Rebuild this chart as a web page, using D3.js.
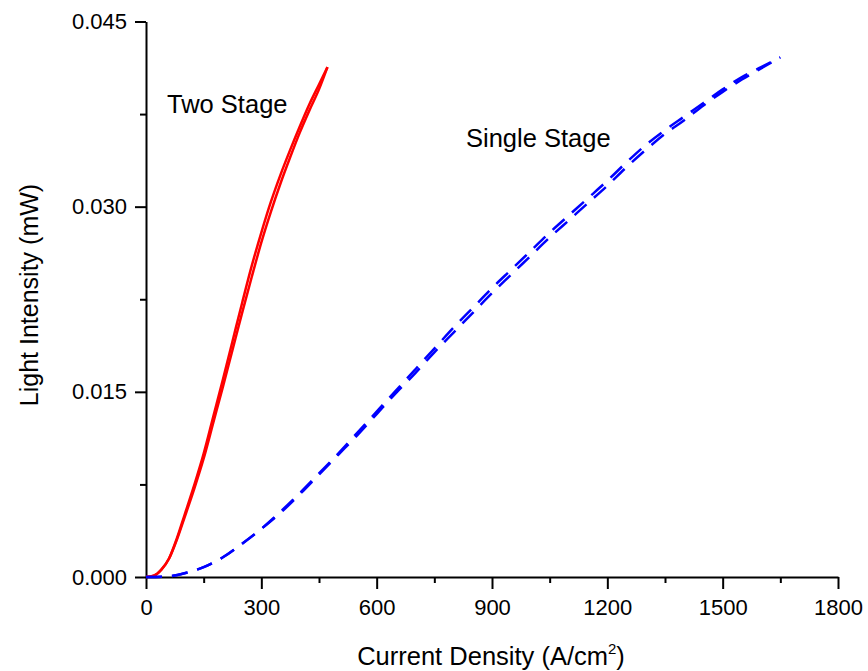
<!DOCTYPE html>
<html>
<head>
<meta charset="utf-8">
<script src="https://cdn.jsdelivr.net/npm/d3@7"></script>
<style>
  body { margin: 0; background: #fff; }
  svg text { font-family: "Liberation Sans", Arial, Helvetica, sans-serif; fill: #000; }
  .axis path, .axis line { stroke: #000; stroke-width: 2px; }
  .axis text { font-size: 22px; }
</style>
</head>
<body>
<svg id="chart" width="868" height="671"></svg>
<script>
// Two Stage, up sweep / down sweep (current density A/cm2, light mW)
const twoJ = [0, 20, 40, 60, 80, 100, 125, 150, 175, 200, 225, 250, 275, 300, 325, 350, 375, 400, 425, 450, 472];
const twoUp = [0, 0.0001, 0.0006, 0.0015, 0.0031, 0.0050, 0.0074, 0.0100, 0.0130, 0.0160, 0.0191, 0.0222, 0.0252, 0.0279, 0.0304, 0.0326, 0.0346, 0.0365, 0.0383, 0.0399, 0.0413];
const twoDown = [0, 0.0001, 0.0006, 0.0015, 0.0030, 0.0048, 0.0071, 0.0096, 0.0125, 0.0154, 0.0184, 0.0214, 0.0243, 0.0271, 0.0296, 0.0319, 0.0340, 0.0360, 0.0378, 0.0395, 0.0413];

// Single Stage, up sweep / down sweep
const oneJ = [0, 50, 100, 150, 200, 250, 300, 350, 400, 450, 500, 550, 600, 650, 700, 750, 800, 850, 900, 950, 1000, 1050, 1100, 1150, 1200, 1250, 1300, 1350, 1400, 1450, 1500, 1550, 1600, 1650];
const oneUp = [0, 0.00003, 0.0003, 0.0008, 0.0016, 0.0027, 0.0039, 0.0053, 0.0068, 0.0084, 0.0100, 0.0117, 0.0134, 0.0151, 0.0168, 0.0185, 0.0202, 0.0218, 0.0234, 0.0249, 0.0264, 0.0279, 0.0293, 0.0307, 0.0321, 0.0336, 0.0350, 0.0362, 0.0373, 0.0384, 0.0395, 0.0405, 0.0413, 0.0421];
const oneDown = [0, 0.00003, 0.0003, 0.0008, 0.0016, 0.0027, 0.0039, 0.0052, 0.0067, 0.0083, 0.0099, 0.0115, 0.0132, 0.0149, 0.0165, 0.0182, 0.0198, 0.0214, 0.0230, 0.0245, 0.0260, 0.0275, 0.0289, 0.0303, 0.0317, 0.0332, 0.0346, 0.0359, 0.0370, 0.0382, 0.0393, 0.0403, 0.0412, 0.0421];

const xMajor = [0, 300, 600, 900, 1200, 1500, 1800];
const xMinor = [150, 450, 750, 1050, 1350, 1650];
const yMajor = [0, 0.015, 0.030, 0.045];
const yMinor = [0.0075, 0.0225, 0.0375];

const svg = d3.select("#chart");

const x = d3.scaleLinear().domain([0, 1800]).range([146, 838]);
const y = d3.scaleLinear().domain([0, 0.045]).range([577, 21.5]);

// axes: minor first, then major
svg.append("g").attr("class", "axis")
  .attr("transform", "translate(0,577)")
  .call(d3.axisBottom(x).tickValues(xMinor).tickSize(6).tickFormat(""))
  .call(g => g.select(".domain").remove());
svg.append("g").attr("class", "axis")
  .attr("transform", "translate(0,577)")
  .call(d3.axisBottom(x).tickValues(xMajor).tickSizeInner(12).tickSizeOuter(0).tickPadding(10).tickFormat(d3.format("d")));

svg.append("g").attr("class", "axis")
  .attr("transform", "translate(146,0)")
  .call(d3.axisLeft(y).tickValues(yMinor).tickSize(6).tickFormat(""))
  .call(g => g.select(".domain").remove());
svg.append("g").attr("class", "axis")
  .attr("transform", "translate(146,0)")
  .call(d3.axisLeft(y).tickValues(yMajor).tickSizeInner(11).tickSizeOuter(0).tickPadding(8).tickFormat(d3.format(".3f")));

// axis titles
const xt = svg.append("text")
  .attr("x", 491).attr("y", 665)
  .attr("text-anchor", "middle")
  .style("font-size", "25.5px")
  .text("Current Density (A/cm");
xt.append("tspan").attr("dy", -11).style("font-size", "15px").text("2");
xt.append("tspan").attr("dy", 11).text(")");

svg.append("text")
  .attr("transform", "translate(38,295) rotate(-90)")
  .attr("text-anchor", "middle")
  .style("font-size", "25px")
  .text("Light Intensity (mW)");

// curves
const line = d3.line().x(d => x(d[0])).y(d => y(d[1])).curve(d3.curveMonotoneX);

const series = [
  { j: twoJ, v: twoUp, color: "#ff0000", dash: null },
  { j: twoJ, v: twoDown, color: "#ff0000", dash: null },
  { j: oneJ, v: oneUp, color: "#0000ff", dash: "16,10" },
  { j: oneJ, v: oneDown, color: "#0000ff", dash: "16,10" }
];

series.forEach(s => {
  svg.append("path")
    .datum(s.j.map((d, i) => [d, s.v[i]]))
    .attr("fill", "none")
    .attr("stroke", s.color)
    .attr("stroke-width", 2.5)
    .attr("stroke-dasharray", s.dash)
    .attr("d", line);
});

// labels
svg.append("text").attr("x", 167).attr("y", 113).style("font-size", "25.5px").text("Two Stage");
svg.append("text").attr("x", 466).attr("y", 147).style("font-size", "25.5px").text("Single Stage");
</script>
</body>
</html>
